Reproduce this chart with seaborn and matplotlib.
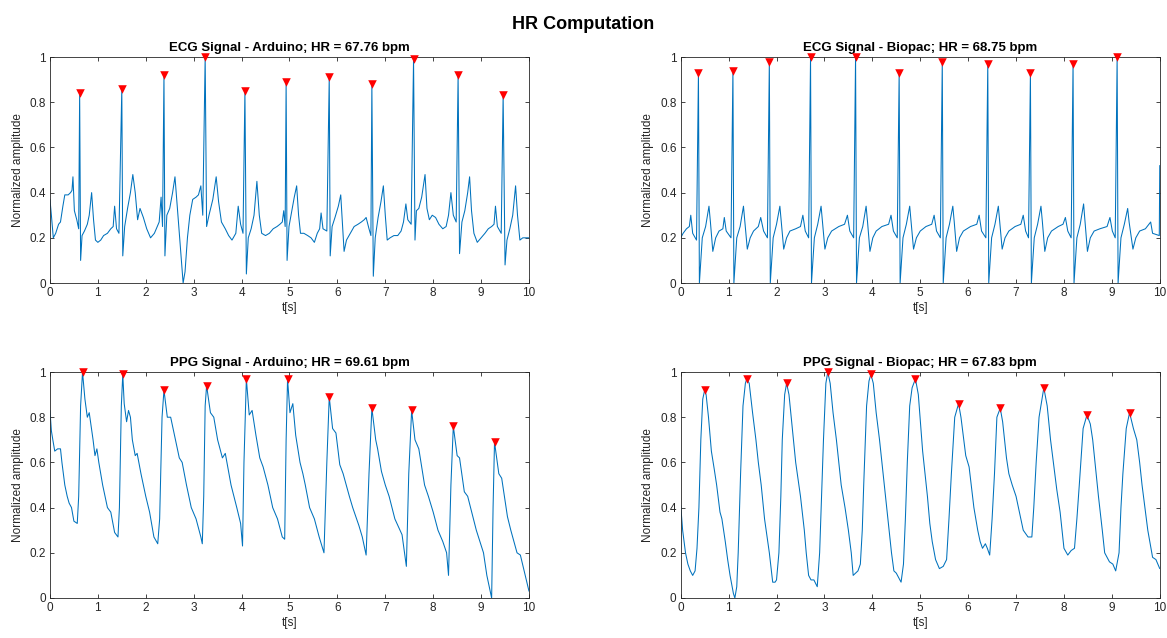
import matplotlib; matplotlib.use('Agg')
import matplotlib.pyplot as plt
import seaborn as sns

# ── data (t [s], normalized amplitude) ────────────────────────────────
ecg_arduino = [
    (0.00, 0.37), (0.03, 0.30), (0.07, 0.20), (0.12, 0.22), (0.18, 0.26), (0.22, 0.27), (0.27, 0.34),
    (0.31, 0.39), (0.38, 0.39), (0.43, 0.40), (0.46, 0.41), (0.48, 0.47), (0.51, 0.32), (0.56, 0.28),
    (0.60, 0.24), (0.62, 0.84), (0.64, 0.10), (0.67, 0.21), (0.72, 0.23), (0.78, 0.26), (0.82, 0.30),
    (0.87, 0.40), (0.91, 0.28), (0.95, 0.19), (1.00, 0.18), (1.06, 0.19), (1.12, 0.21), (1.20, 0.22),
    (1.27, 0.24), (1.32, 0.25), (1.35, 0.34), (1.39, 0.24), (1.44, 0.22), (1.50, 0.86), (1.52, 0.12),
    (1.56, 0.25), (1.62, 0.33), (1.68, 0.40), (1.73, 0.48), (1.78, 0.40), (1.83, 0.28), (1.88, 0.33),
    (1.95, 0.29), (2.02, 0.24), (2.10, 0.20), (2.18, 0.22), (2.24, 0.25), (2.28, 0.27), (2.32, 0.38),
    (2.35, 0.25), (2.38, 0.92), (2.40, 0.12), (2.44, 0.30), (2.50, 0.33), (2.56, 0.40), (2.61, 0.47),
    (2.65, 0.36), (2.70, 0.22), (2.75, 0.08), (2.78, 0.00), (2.82, 0.05), (2.87, 0.20), (2.92, 0.30),
    (2.98, 0.37), (3.05, 0.38), (3.10, 0.39), (3.15, 0.43), (3.19, 0.30), (3.24, 1.00), (3.27, 0.25),
    (3.32, 0.30), (3.40, 0.37), (3.47, 0.47), (3.52, 0.36), (3.58, 0.27), (3.66, 0.24), (3.73, 0.21),
    (3.80, 0.19), (3.88, 0.22), (3.93, 0.34), (3.98, 0.26), (4.03, 0.22), (4.07, 0.85), (4.10, 0.04),
    (4.14, 0.20), (4.20, 0.24), (4.26, 0.30), (4.32, 0.45), (4.37, 0.30), (4.42, 0.22), (4.50, 0.21),
    (4.58, 0.22), (4.66, 0.24), (4.74, 0.25), (4.80, 0.26), (4.85, 0.27), (4.88, 0.32), (4.91, 0.25),
    (4.93, 0.89), (4.95, 0.10), (4.99, 0.25), (5.05, 0.32), (5.10, 0.38), (5.15, 0.43), (5.19, 0.30),
    (5.23, 0.22), (5.30, 0.22), (5.38, 0.21), (5.45, 0.20), (5.52, 0.18), (5.58, 0.22), (5.63, 0.24),
    (5.66, 0.31), (5.70, 0.24), (5.78, 0.23), (5.83, 0.91), (5.85, 0.12), (5.89, 0.25), (5.95, 0.29),
    (6.02, 0.34), (6.07, 0.39), (6.11, 0.25), (6.14, 0.14), (6.19, 0.19), (6.27, 0.22), (6.35, 0.25),
    (6.43, 0.26), (6.50, 0.27), (6.56, 0.28), (6.60, 0.29), (6.66, 0.24), (6.70, 0.21), (6.72, 0.88),
    (6.75, 0.03), (6.79, 0.20), (6.85, 0.29), (6.91, 0.36), (6.96, 0.43), (7.00, 0.30), (7.04, 0.19),
    (7.10, 0.20), (7.18, 0.21), (7.26, 0.21), (7.33, 0.23), (7.38, 0.27), (7.43, 0.35), (7.47, 0.28),
    (7.54, 0.26), (7.59, 0.99), (7.62, 0.19), (7.65, 0.32), (7.70, 0.33), (7.76, 0.38), (7.83, 0.48),
    (7.87, 0.33), (7.92, 0.28), (7.98, 0.30), (8.05, 0.29), (8.12, 0.26), (8.20, 0.24), (8.27, 0.25),
    (8.32, 0.30), (8.37, 0.40), (8.42, 0.30), (8.48, 0.27), (8.52, 0.92), (8.55, 0.13), (8.60, 0.27),
    (8.66, 0.32), (8.72, 0.40), (8.76, 0.47), (8.80, 0.32), (8.85, 0.22), (8.92, 0.18), (9.00, 0.20),
    (9.08, 0.22), (9.15, 0.24), (9.22, 0.25), (9.27, 0.26), (9.30, 0.34), (9.34, 0.25), (9.42, 0.22),
    (9.46, 0.83), (9.50, 0.08), (9.54, 0.19), (9.60, 0.24), (9.66, 0.30), (9.72, 0.43), (9.76, 0.30),
    (9.81, 0.19), (9.87, 0.20), (9.93, 0.20), (10.0, 0.20)]
ecg_arduino_pk_t = [0.62, 1.50, 2.38, 3.24, 4.07, 4.93, 5.83, 6.72, 7.59, 8.52, 9.46]
ecg_arduino_pk_y = [0.84, 0.86, 0.92, 1.00, 0.85, 0.89, 0.91, 0.88, 0.99, 0.92, 0.83]

ecg_biopac = [
    (0.00, 0.20), (0.05, 0.22), (0.12, 0.24), (0.18, 0.25), (0.21, 0.30), (0.25, 0.22), (0.33, 0.19),
    (0.37, 0.93), (0.39, 0.00), (0.45, 0.20), (0.52, 0.25), (0.59, 0.34), (0.62, 0.27), (0.67, 0.14),
    (0.73, 0.20), (0.80, 0.23), (0.88, 0.24), (0.91, 0.29), (0.95, 0.23), (1.05, 0.20),
    (1.09, 0.94), (1.11, 0.00), (1.17, 0.20), (1.24, 0.25), (1.31, 0.34), (1.34, 0.27), (1.39, 0.15),
    (1.45, 0.20), (1.52, 0.23), (1.62, 0.25), (1.67, 0.29), (1.73, 0.23), (1.81, 0.20),
    (1.85, 0.98), (1.87, 0.00), (1.93, 0.20), (2.00, 0.26), (2.07, 0.34), (2.10, 0.27), (2.15, 0.15),
    (2.21, 0.20), (2.28, 0.23), (2.40, 0.24), (2.50, 0.25), (2.55, 0.30), (2.60, 0.23), (2.67, 0.20),
    (2.71, 1.00), (2.73, 0.00), (2.79, 0.20), (2.86, 0.26), (2.93, 0.34), (2.96, 0.27), (3.01, 0.15),
    (3.07, 0.20), (3.15, 0.23), (3.30, 0.25), (3.42, 0.26), (3.48, 0.30), (3.53, 0.23), (3.61, 0.20),
    (3.65, 1.00), (3.67, 0.00), (3.73, 0.20), (3.80, 0.25), (3.87, 0.34), (3.90, 0.27), (3.95, 0.14),
    (4.01, 0.20), (4.08, 0.23), (4.20, 0.25), (4.34, 0.26), (4.39, 0.30), (4.44, 0.23), (4.52, 0.20),
    (4.56, 0.93), (4.58, 0.00), (4.64, 0.20), (4.71, 0.26), (4.78, 0.34), (4.81, 0.27), (4.86, 0.15),
    (4.92, 0.20), (5.00, 0.23), (5.12, 0.25), (5.24, 0.26), (5.29, 0.30), (5.34, 0.23), (5.42, 0.20),
    (5.46, 0.98), (5.48, 0.00), (5.54, 0.20), (5.61, 0.26), (5.68, 0.34), (5.71, 0.27), (5.76, 0.14),
    (5.82, 0.20), (5.90, 0.23), (6.05, 0.25), (6.18, 0.26), (6.23, 0.30), (6.28, 0.23), (6.37, 0.20),
    (6.41, 0.97), (6.43, 0.00), (6.49, 0.20), (6.56, 0.26), (6.63, 0.34), (6.66, 0.27), (6.71, 0.15),
    (6.77, 0.20), (6.85, 0.23), (6.98, 0.25), (7.10, 0.26), (7.15, 0.30), (7.20, 0.23), (7.26, 0.20),
    (7.30, 0.93), (7.32, 0.00), (7.38, 0.20), (7.45, 0.26), (7.52, 0.34), (7.55, 0.27), (7.60, 0.14),
    (7.66, 0.20), (7.74, 0.23), (7.88, 0.25), (7.98, 0.26), (8.03, 0.29), (8.08, 0.23), (8.15, 0.20),
    (8.19, 0.97), (8.21, 0.00), (8.27, 0.20), (8.34, 0.26), (8.41, 0.35), (8.44, 0.27), (8.49, 0.14),
    (8.55, 0.20), (8.63, 0.23), (8.75, 0.24), (8.90, 0.25), (8.96, 0.29), (9.01, 0.23), (9.07, 0.20),
    (9.11, 1.00), (9.13, 0.00), (9.19, 0.20), (9.26, 0.26), (9.33, 0.33), (9.36, 0.27), (9.44, 0.15),
    (9.50, 0.20), (9.58, 0.23), (9.70, 0.24), (9.81, 0.27), (9.85, 0.22), (9.99, 0.21), (10.0, 0.52)]
ecg_biopac_pk_t = [0.37, 1.09, 1.85, 2.71, 3.65, 4.56, 5.46, 6.41, 7.30, 8.19, 9.11]
ecg_biopac_pk_y = [0.93, 0.94, 0.98, 1.00, 1.00, 0.93, 0.98, 0.97, 0.93, 0.97, 1.00]

ppg_arduino = [
    (0.00, 0.83), (0.03, 0.74), (0.06, 0.70), (0.10, 0.65), (0.16, 0.66), (0.22, 0.66), (0.25, 0.60),
    (0.31, 0.50), (0.36, 0.45), (0.40, 0.42), (0.45, 0.40), (0.50, 0.34), (0.57, 0.33), (0.60, 0.45),
    (0.64, 0.85), (0.68, 1.00), (0.73, 0.88), (0.78, 0.80), (0.82, 0.82), (0.86, 0.76), (0.90, 0.70),
    (0.94, 0.63), (0.98, 0.66), (1.02, 0.60), (1.10, 0.50), (1.20, 0.40), (1.27, 0.38), (1.35, 0.29),
    (1.42, 0.27), (1.45, 0.40), (1.49, 0.85), (1.52, 0.99), (1.55, 0.86), (1.60, 0.78), (1.64, 0.83),
    (1.68, 0.80), (1.72, 0.70), (1.78, 0.63), (1.82, 0.64), (1.90, 0.55), (2.00, 0.45), (2.08, 0.38),
    (2.17, 0.27), (2.25, 0.24), (2.29, 0.35), (2.34, 0.80), (2.38, 0.92), (2.45, 0.80), (2.52, 0.80),
    (2.60, 0.72), (2.70, 0.62), (2.76, 0.60), (2.85, 0.50), (2.95, 0.40), (3.05, 0.35), (3.15, 0.27),
    (3.18, 0.24), (3.21, 0.45), (3.24, 0.85), (3.27, 0.94), (3.35, 0.82), (3.42, 0.80), (3.50, 0.70),
    (3.60, 0.62), (3.66, 0.64), (3.78, 0.50), (3.90, 0.40), (3.98, 0.33), (4.00, 0.28), (4.02, 0.23),
    (4.05, 0.60), (4.10, 0.97), (4.16, 0.81), (4.22, 0.83), (4.30, 0.72), (4.38, 0.62), (4.45, 0.58),
    (4.55, 0.50), (4.65, 0.40), (4.75, 0.35), (4.85, 0.27), (4.90, 0.26), (4.93, 0.70), (4.96, 0.97),
    (5.01, 0.82), (5.07, 0.86), (5.13, 0.72), (5.22, 0.60), (5.28, 0.55), (5.33, 0.50), (5.42, 0.40),
    (5.52, 0.35), (5.62, 0.27), (5.72, 0.20), (5.78, 0.60), (5.83, 0.89), (5.90, 0.75), (5.97, 0.73),
    (6.05, 0.59), (6.12, 0.55), (6.25, 0.45), (6.32, 0.40), (6.45, 0.32), (6.52, 0.27), (6.60, 0.19),
    (6.66, 0.55), (6.72, 0.84), (6.80, 0.70), (6.84, 0.66), (6.92, 0.56), (7.00, 0.50), (7.08, 0.45),
    (7.20, 0.35), (7.35, 0.28), (7.44, 0.14), (7.49, 0.55), (7.55, 0.83), (7.62, 0.70), (7.70, 0.66),
    (7.82, 0.50), (7.90, 0.45), (8.00, 0.38), (8.10, 0.30), (8.20, 0.25), (8.28, 0.20), (8.32, 0.10),
    (8.37, 0.50), (8.42, 0.76), (8.50, 0.63), (8.55, 0.62), (8.65, 0.47), (8.72, 0.45), (8.90, 0.30),
    (9.05, 0.20), (9.12, 0.10), (9.22, 0.00), (9.25, 0.40), (9.28, 0.69), (9.37, 0.55), (9.43, 0.53),
    (9.55, 0.36), (9.62, 0.30), (9.75, 0.20), (9.82, 0.19), (9.92, 0.10), (10.0, 0.03)]
ppg_arduino_pk_t = [0.68, 1.52, 2.38, 3.27, 4.10, 4.96, 5.83, 6.72, 7.55, 8.42, 9.28]
ppg_arduino_pk_y = [1.00, 0.99, 0.92, 0.94, 0.97, 0.97, 0.89, 0.84, 0.83, 0.76, 0.69]

ppg_biopac = [
    (0.00, 0.41), (0.04, 0.30), (0.10, 0.20), (0.15, 0.15), (0.20, 0.12), (0.25, 0.10), (0.30, 0.12),
    (0.34, 0.22), (0.38, 0.40), (0.42, 0.70), (0.46, 0.88), (0.50, 0.92), (0.53, 0.90), (0.58, 0.80),
    (0.64, 0.65), (0.70, 0.57), (0.75, 0.50), (0.82, 0.38), (0.86, 0.35), (0.93, 0.25), (0.98, 0.17),
    (1.03, 0.10), (1.10, 0.02), (1.13, 0.00), (1.17, 0.05), (1.20, 0.20), (1.25, 0.55), (1.30, 0.85),
    (1.35, 0.95), (1.38, 0.97), (1.43, 0.95), (1.50, 0.82), (1.57, 0.70), (1.62, 0.60), (1.68, 0.50),
    (1.75, 0.35), (1.85, 0.20), (1.92, 0.07), (1.97, 0.07), (2.00, 0.08), (2.05, 0.20), (2.09, 0.45),
    (2.12, 0.70), (2.17, 0.90), (2.21, 0.95), (2.26, 0.90), (2.33, 0.75), (2.40, 0.60), (2.50, 0.45),
    (2.58, 0.30), (2.62, 0.20), (2.67, 0.10), (2.72, 0.08), (2.78, 0.08), (2.85, 0.05), (2.90, 0.20),
    (2.94, 0.45), (2.98, 0.70), (3.03, 0.95), (3.07, 1.00), (3.12, 0.95), (3.18, 0.82), (3.25, 0.70),
    (3.35, 0.50), (3.43, 0.40), (3.50, 0.30), (3.56, 0.20), (3.60, 0.10), (3.65, 0.11), (3.70, 0.12),
    (3.75, 0.15), (3.79, 0.30), (3.82, 0.50), (3.88, 0.85), (3.93, 0.96), (3.97, 0.99), (4.02, 0.95),
    (4.08, 0.82), (4.15, 0.70), (4.25, 0.50), (4.35, 0.30), (4.40, 0.20), (4.45, 0.12), (4.50, 0.11),
    (4.55, 0.09), (4.60, 0.07), (4.65, 0.15), (4.69, 0.35), (4.73, 0.60), (4.78, 0.85), (4.83, 0.93),
    (4.90, 0.97), (4.96, 0.90), (5.05, 0.65), (5.15, 0.45), (5.20, 0.33), (5.25, 0.25), (5.32, 0.17),
    (5.40, 0.13), (5.48, 0.14), (5.55, 0.17), (5.60, 0.35), (5.65, 0.55), (5.72, 0.80), (5.80, 0.86),
    (5.85, 0.80), (5.95, 0.63), (6.02, 0.58), (6.12, 0.40), (6.20, 0.30), (6.25, 0.25), (6.30, 0.22),
    (6.36, 0.24), (6.40, 0.22), (6.45, 0.19), (6.50, 0.35), (6.55, 0.55), (6.60, 0.80), (6.67, 0.84),
    (6.72, 0.78), (6.80, 0.62), (6.85, 0.55), (6.92, 0.50), (7.00, 0.45), (7.08, 0.37), (7.15, 0.30),
    (7.25, 0.27), (7.33, 0.27), (7.37, 0.40), (7.42, 0.60), (7.48, 0.80), (7.58, 0.93), (7.65, 0.85),
    (7.72, 0.70), (7.78, 0.60), (7.85, 0.48), (7.92, 0.38), (8.00, 0.22), (8.08, 0.19), (8.15, 0.21),
    (8.22, 0.22), (8.27, 0.35), (8.32, 0.50), (8.40, 0.75), (8.48, 0.81), (8.55, 0.77), (8.60, 0.70),
    (8.72, 0.45), (8.80, 0.30), (8.85, 0.20), (8.95, 0.16), (9.02, 0.15), (9.08, 0.12), (9.15, 0.20),
    (9.19, 0.40), (9.23, 0.55), (9.30, 0.75), (9.37, 0.82), (9.45, 0.75), (9.52, 0.70), (9.58, 0.60),
    (9.63, 0.50), (9.75, 0.30), (9.85, 0.18), (9.92, 0.17), (10.0, 0.13)]
ppg_biopac_pk_t = [0.50, 1.38, 2.21, 3.07, 3.97, 4.90, 5.80, 6.67, 7.58, 8.48, 9.37]
ppg_biopac_pk_y = [0.92, 0.97, 0.95, 1.00, 0.99, 0.97, 0.86, 0.84, 0.93, 0.81, 0.82]

titles = ['ECG Signal - Arduino; HR = 67.76 bpm', 'ECG Signal - Biopac; HR = 68.75 bpm',
          'PPG Signal - Arduino; HR = 69.61 bpm', 'PPG Signal - Biopac; HR = 67.83 bpm']
x_ticks = list(range(11))
y_ticks = [0, 0.2, 0.4, 0.6, 0.8, 1]
y_tick_labels = ['0', '0.2', '0.4', '0.6', '0.8', '1']

# ── style ─────────────────────────────────────────────────────────────
sns.set_theme(style='ticks')
plt.rcParams['font.family'] = ['Liberation Sans', 'DejaVu Sans']
plt.rcParams.update({
    'axes.edgecolor': '#262626', 'axes.linewidth': 0.6,
    'xtick.direction': 'in', 'ytick.direction': 'in',
    'xtick.color': '#262626', 'ytick.color': '#262626',
    'xtick.major.size': 3, 'ytick.major.size': 3,
    'xtick.major.width': 0.6, 'ytick.major.width': 0.6,
    'xtick.labelsize': 8.5, 'ytick.labelsize': 8.5,
})
BLUE = '#0072BD'

panels = [
    (ecg_arduino, ecg_arduino_pk_t, ecg_arduino_pk_y),
    (ecg_biopac, ecg_biopac_pk_t, ecg_biopac_pk_y),
    (ppg_arduino, ppg_arduino_pk_t, ppg_arduino_pk_y),
    (ppg_biopac, ppg_biopac_pk_t, ppg_biopac_pk_y),
]
positions = [[0.0428, 0.5564, 0.4105, 0.3542], [0.5833, 0.5564, 0.4105, 0.3542],
             [0.0428, 0.0627, 0.4105, 0.3542], [0.5833, 0.0627, 0.4105, 0.3542]]

fig = plt.figure(figsize=(11.67, 6.38), dpi=100)
for (sig, pk_t, pk_y), pos, title in zip(panels, positions, titles):
    ax = fig.add_axes(pos)
    t = [p[0] for p in sig]
    y = [p[1] for p in sig]
    sns.lineplot(x=t, y=y, ax=ax, color=BLUE, linewidth=0.75,
                 estimator=None, sort=False)
    sns.scatterplot(x=pk_t, y=pk_y, ax=ax, marker='v', color='#ff0000', s=38,
                    linewidth=0, zorder=4, clip_on=False)
    ax.set_xlim(0, 10)
    ax.set_ylim(0, 1)
    ax.set_xticks(x_ticks)
    ax.set_xticklabels([str(v) for v in x_ticks])
    ax.set_yticks(y_ticks)
    ax.set_yticklabels(y_tick_labels)
    ax.tick_params(top=True, right=True, pad=3)
    for s in ax.spines.values():
        s.set_visible(True)
    ax.set_title(title, fontsize=9.5, fontweight='bold', pad=4, color='black')
    ax.set_xlabel('t[s]', fontsize=8.5, labelpad=2, color='#262626')
    ax.set_ylabel('Normalized amplitude', fontsize=8.5, labelpad=4, color='#262626')

fig.suptitle('HR Computation', fontsize=13, fontweight='bold', y=0.975, color='black')
plt.savefig('out.png', dpi=100)
plt.close()
